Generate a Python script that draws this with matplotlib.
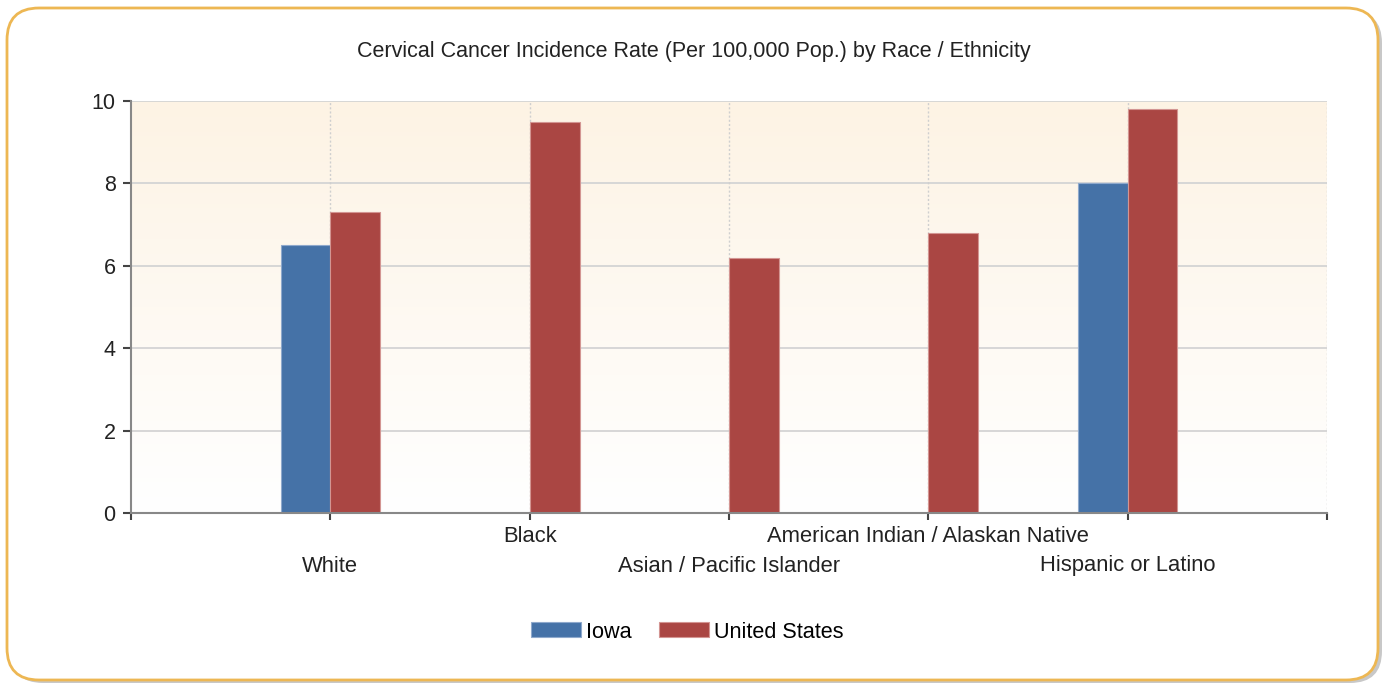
import numpy as np
import matplotlib
matplotlib.use("Agg")
import matplotlib.pyplot as plt
from matplotlib.patches import FancyBboxPatch, Patch
from matplotlib.transforms import IdentityTransform

plt.rcParams['font.family'] = ['Liberation Sans', 'DejaVu Sans']

# data
categories = ['White', 'Black', 'Asian / Pacific Islander',
              'American Indian / Alaskan Native', 'Hispanic or Latino']
iowa = [6.5, np.nan, np.nan, np.nan, 8.0]
us = [7.3, 9.5, 6.2, 6.8, 9.8]
series_names = ['Iowa', 'United States']
colors = ['#4572A7', '#AA4643']
edges = ['#8FA9CC', '#D39592']

W, H = 1387, 687
fig = plt.figure(figsize=(W / 100, H / 100), dpi=100)

# rounded frame with shadow (pixel coords)
shadow = FancyBboxPatch((11, 4), 1371, 672, boxstyle="round,pad=0,rounding_size=32",
                        transform=IdentityTransform(), facecolor='#c8c8c8',
                        edgecolor='none', zorder=0)
frame = FancyBboxPatch((7, 7), 1371, 672, boxstyle="round,pad=0,rounding_size=32",
                       transform=IdentityTransform(), facecolor='white',
                       edgecolor='#EDB753', linewidth=2, zorder=1)
fig.patches.extend([shadow, frame])

ax = fig.add_axes([131 / W, 174 / H, 1196 / W, 412 / H])
ax.set_zorder(2)
ax.patch.set_visible(False)

x = np.arange(1, len(categories) + 1)
bw = 0.25

# gradient background, cream at top fading to white
grad = np.linspace(0, 1, 256).reshape(-1, 1)
top = np.array([253, 243, 228]) / 255
bot = np.array([255, 255, 255]) / 255
img = top + (bot - top) * grad[..., None] * np.ones((1, 1, 3))
ax.imshow(img, extent=(0, 6, 0, 10), aspect='auto', zorder=0)

ax.bar(x - bw / 2, iowa, bw, color=colors[0], edgecolor=edges[0], linewidth=0.8, zorder=3)
ax.bar(x + bw / 2, us, bw, color=colors[1], edgecolor=edges[1], linewidth=0.8, zorder=3)

ax.set_xlim(0, 6)
ax.set_ylim(0, 10)
ax.set_yticks(np.arange(0, 11, 2))
ax.set_xticks(np.arange(0, 7))
ax.set_xticklabels([])

for yv in range(2, 11, 2):
    ax.axhline(yv, color='#d4d4d4', linewidth=1.3, zorder=1)
for xv in range(1, 7):
    ax.axvline(xv, color='#cfcfcf', linewidth=1.0, linestyle=(0, (1.5, 1.5)), zorder=1)

for s in ['top', 'right']:
    ax.spines[s].set_visible(False)
ax.spines['left'].set_color('#888888')
ax.spines['bottom'].set_color('#888888')
ax.spines['left'].set_linewidth(1.5)
ax.spines['bottom'].set_linewidth(1.5)
ax.spines['left'].set_zorder(4)
ax.spines['bottom'].set_zorder(4)
ax.tick_params(axis='y', length=6, width=1.5, color='#444444', labelsize=15.5,
               labelcolor='#222222', pad=5)
ax.tick_params(axis='x', length=5, width=1.5, color='#444444')

# staggered category labels
for i, (xi, lab) in enumerate(zip(x, categories)):
    off = -23 if i % 2 == 1 else -53
    ax.annotate(lab, xy=(xi, 0), xycoords=('data', 'axes fraction'),
                xytext=(0, off), textcoords='offset pixels',
                ha='center', va='center', fontsize=15.8, color='#222222')

fig.text(0.5, (H - 52) / H, 'Cervical Cancer Incidence Rate (Per 100,000 Pop.) by Race / Ethnicity',
         ha='center', va='center', fontsize=15.5, color='#222222')

handles = [Patch(facecolor=c, edgecolor=e, linewidth=0.8) for c, e in zip(colors, edges)]
fig.legend(handles, series_names, loc='center', bbox_to_anchor=(0.4957, (H - 632) / H),
           ncol=2, frameon=False, fontsize=15.6, handlelength=2.3, handleheight=0.68,
           columnspacing=1.25, handletextpad=0.25)

fig.savefig('out.png', dpi=100)
